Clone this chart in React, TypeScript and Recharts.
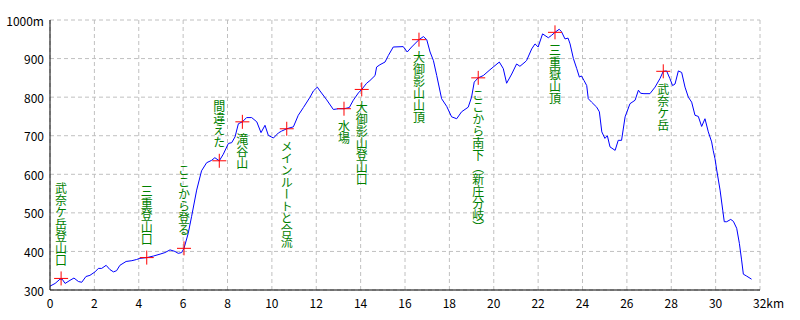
import React from 'react';
import { ComposedChart, Line, Scatter, XAxis, YAxis, CartesianGrid } from 'recharts';

const profileKm = [
  0, 0.23, 0.45, 0.55, 0.68, 0.9, 1.08, 1.28, 1.43, 1.62, 1.8, 2.03, 2.18, 2.33, 2.53, 2.7, 2.86, 3.0, 3.15, 3.43,
  3.69, 3.9, 4.05, 4.36, 4.66, 4.96, 5.18, 5.41, 5.63, 5.78, 5.93, 6.04, 6.23, 6.38, 6.61, 6.83, 7.06, 7.28, 7.43, 7.63,
  7.81, 8.04, 8.19, 8.34, 8.49, 8.67, 8.86, 9.09, 9.32, 9.51, 9.69, 9.84, 10.07, 10.29, 10.44, 10.67, 10.97, 11.19, 11.42, 11.72,
  11.87, 12.05, 12.17, 12.47, 12.77, 13.0, 13.25, 13.49, 13.67, 13.9, 14.05, 14.27, 14.42, 14.65, 14.72, 14.87, 15.1, 15.25, 15.47, 15.92,
  16.1, 16.3, 16.63, 16.83, 16.98, 17.13, 17.28, 17.43, 17.65, 17.88, 18.1, 18.33, 18.55, 18.85, 19.0, 19.12, 19.3, 19.53, 19.83, 20.25,
  20.43, 20.58, 20.81, 21.03, 21.18, 21.41, 21.48, 21.71, 21.86, 22.0, 22.2, 22.46, 22.6, 22.76, 22.95, 23.05, 23.21, 23.35, 23.44, 23.59,
  23.74, 23.86, 23.95, 24.07, 24.19, 24.26, 24.41, 24.64, 24.76, 24.87, 25.01, 25.12, 25.24, 25.47, 25.61, 25.76, 25.92, 26.14, 26.37, 26.52,
  26.62, 26.77, 27.04, 27.27, 27.49, 27.64, 27.79, 27.94, 28.06, 28.17, 28.32, 28.47, 28.62, 28.77, 28.92, 29.07, 29.22, 29.37, 29.52, 29.67,
  29.82, 29.89, 29.97, 30.05, 30.2, 30.32, 30.39, 30.5, 30.68, 30.8, 30.95, 31.07, 31.17, 31.25, 31.4, 31.62,
];
const profileElev = [
  310, 317, 328, 328, 317, 325, 331, 322, 320, 335, 338, 347, 356, 356, 364, 353, 347, 350, 364, 374,
  376, 379, 382, 384, 388, 393, 397, 404, 400, 395, 397, 408, 447, 490, 559, 609, 630, 636, 643, 635,
  652, 680, 682, 697, 731, 736, 747, 747, 736, 708, 727, 701, 694, 707, 712, 718, 723, 753, 773, 800,
  816, 826, 816, 793, 768, 770, 770, 773, 792, 811, 820, 836, 843, 856, 878, 884, 891, 908, 930, 931,
  917, 930, 949, 957, 949, 917, 895, 856, 796, 776, 749, 744, 762, 774, 800, 839, 850, 856, 871, 891,
  874, 836, 860, 886, 880, 891, 895, 925, 938, 930, 964, 954, 960, 968, 976, 970, 951, 953, 938, 900,
  874, 852, 855, 843, 830, 796, 787, 774, 762, 710, 693, 700, 671, 662, 688, 688, 749, 783, 792, 818,
  810, 809, 809, 826, 848, 867, 868, 848, 830, 834, 868, 864, 826, 800, 787, 753, 750, 724, 744, 710,
  684, 662, 641, 611, 559, 507, 477, 477, 483, 478, 460, 421, 378, 341, 336, 328,
];

const waypointKm = [0.5, 4.36, 6.04, 7.63, 8.67, 10.67, 13.25, 14.05, 16.63, 19.3, 22.76, 27.64];
const waypointElev = [330, 384, 408, 635, 736, 718, 770, 820, 949, 850, 968, 867];
const waypointLabel = [
  '武奈ケ岳登山口',
  '三重登山口',
  'ここから登る',
  '間違えた',
  '滝谷山',
  'メインルートと合流',
  '水場',
  '大御影山登山口',
  '大御影山山頂',
  'ここから南下（新庄分岐）',
  '三重嶽山頂',
  '武奈ケ岳',
];

const xTicks = [0, 2, 4, 6, 8, 10, 12, 14, 16, 18, 20, 22, 24, 26, 28, 30, 32];
const yTicks = [300, 400, 500, 600, 700, 800, 900, 1000];

const profile = profileKm.map((x, i) => ({ x, y: profileElev[i] }));
const waypoints = waypointKm.map((x, i) => ({ x, y: waypointElev[i], label: waypointLabel[i], idx: i }));

// layout: the first four labels sit above their markers
const LABELS_ABOVE = 4;
const FONT = '"Noto Sans CJK JP", "Noto Sans", sans-serif';

function Marker(props: any) {
  const { cx, cy, payload } = props;
  const above = payload.idx < LABELS_ABOVE;
  return (
    <g>
      <line x1={cx - 7} x2={cx + 7} y1={cy} y2={cy} stroke="#ff0000" strokeWidth={1} />
      <line x1={cx} x2={cx} y1={cy - 7} y2={cy + 7} stroke="#ff0000" strokeWidth={1} />
      <text
        x={cx}
        y={above ? cy - 12 : cy + 12}
        textAnchor={above ? 'end' : 'start'}
        fill="#008000"
        fontSize={12}
        fontFamily={FONT}
        style={{ writingMode: 'vertical-rl' as any }}
      >
        {payload.label}
      </text>
    </g>
  );
}

function XTick(props: any) {
  const { x, payload } = props;
  const v = payload.value;
  const last = v === 32;
  return (
    <text
      x={last ? x - 7 : x}
      y={302}
      textAnchor={last ? 'start' : 'middle'}
      dominantBaseline="central"
      fontSize={12}
      fontFamily={FONT}
      fill="#000"
    >
      {last ? `${v}km` : String(v)}
    </text>
  );
}

function YTick(props: any) {
  const { y, payload } = props;
  const v = payload.value;
  return (
    <text x={44} y={y} textAnchor="end" dominantBaseline="central" fontSize={12} fontFamily={FONT} fill="#000">
      {v === 1000 ? '1000m' : String(v)}
    </text>
  );
}

export default function App() {
  return (
    <div style={{ position: 'absolute', left: 0, top: 0, width: 800, height: 320, background: '#fff' }}>
      <ComposedChart width={800} height={320} margin={{ top: 20, right: 40, bottom: 0, left: 0 }}>
        <CartesianGrid stroke="#c0c0c0" strokeDasharray="4 3" />
        <XAxis
          dataKey="x"
          type="number"
          domain={[0, 32]}
          ticks={xTicks}
          interval={0}
          height={30}
          tickSize={0}
          tickLine={false}
          axisLine={{ stroke: '#000' }}
          tick={<XTick />}
          allowDataOverflow
        />
        <XAxis
          xAxisId="top"
          orientation="top"
          type="number"
          domain={[0, 32]}
          height={0}
          tick={false}
          tickLine={false}
          axisLine={{ stroke: '#000' }}
        />
        <YAxis
          dataKey="y"
          type="number"
          domain={[300, 1000]}
          ticks={yTicks}
          interval={0}
          width={50}
          tickSize={0}
          tickLine={false}
          axisLine={{ stroke: '#000' }}
          tick={<YTick />}
          allowDataOverflow
        />
        <YAxis
          yAxisId="right"
          orientation="right"
          type="number"
          domain={[300, 1000]}
          width={0}
          tick={false}
          tickLine={false}
          axisLine={{ stroke: '#000' }}
        />
        <Line
          data={profile}
          dataKey="y"
          type="linear"
          stroke="#0000ff"
          strokeWidth={1}
          dot={false}
          activeDot={false}
          isAnimationActive={false}
        />
        <Scatter data={waypoints} dataKey="y" shape={<Marker />} isAnimationActive={false} />
      </ComposedChart>
    </div>
  );
}
